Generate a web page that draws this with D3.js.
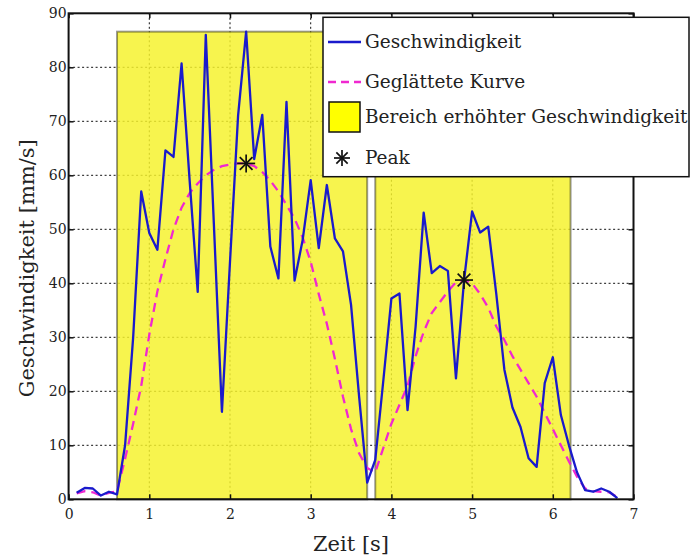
<!DOCTYPE html>
<html>
<head>
<meta charset="utf-8">
<script src="https://cdn.jsdelivr.net/npm/d3@7"></script>
<style>
  body { margin: 0; background: #fff; }
  svg text { font-family: "DejaVu Serif", "Liberation Serif", serif; fill: #222; }
</style>
</head>
<body>
<div id="chart"></div>
<script>
// measured data (Zeit in s, Geschwindigkeit in mm/s)
const zeit = [0.1, 0.2, 0.3, 0.4, 0.5, 0.6, 0.7, 0.8, 0.9, 1.0,
  1.1, 1.2, 1.3, 1.4, 1.5, 1.6, 1.7, 1.8, 1.9, 2.0,
  2.1, 2.2, 2.3, 2.4, 2.5, 2.6, 2.7, 2.8, 2.9, 3.0,
  3.1, 3.2, 3.3, 3.4, 3.5, 3.6, 3.7, 3.8, 3.9, 4.0,
  4.1, 4.2, 4.3, 4.4, 4.5, 4.6, 4.7, 4.8, 4.9, 5.0,
  5.1, 5.2, 5.3, 5.4, 5.5, 5.6, 5.7, 5.8, 5.9, 6.0,
  6.1, 6.2, 6.3, 6.4, 6.5, 6.6, 6.7, 6.8];
const geschwindigkeit = [1.2, 2.1, 2.0, 0.7, 1.4, 0.9, 10, 30, 57, 49.3,
  46.2, 64.6, 63.4, 80.7, 59, 38.4, 86, 51, 16.2, 44,
  71, 86.6, 63, 71.2, 46.8, 40.9, 73.6, 40.5, 48, 59.1,
  46.5, 58.2, 48.3, 45.9, 36, 19, 3.1, 7.3, 22, 37.2,
  38.1, 16.5, 32, 53.1, 41.9, 43.2, 42.3, 22.4, 40.5, 53.3,
  49.4, 50.5, 38, 24, 17, 13.4, 7.6, 6.0, 21.5, 26.3,
  15.6, 10, 5, 1.7, 1.4, 2.0, 1.4, 0.2];
const geglaettet = [1.1, 1.5, 1.3, 0.7, 1.2, 1.5, 7.5, 14, 21, 30.5,
  38.5, 44.5, 50, 54, 56.7, 58.5, 60, 61, 61.7, 62,
  62.2, 62.2, 61.7, 60.6, 59, 57, 54.5, 52, 48.5, 44,
  38, 32.5, 26, 19, 13, 8.5, 5.8, 5, 9.5, 14,
  17.5, 21, 26.5, 31, 34.5, 36.5, 38.5, 40.2, 40.6, 40,
  38, 35.5, 32, 29.5, 26.5, 24, 21.5, 19, 16, 13,
  10, 7, 4.2, 2, 1.5, 1.4, 1.3, 0.4];

// Bereiche erhoehter Geschwindigkeit
const bereichStart = [0.6, 3.8];
const bereichEnde = [3.7, 6.22];
const bereichHoehe = 86.6;

// Peaks
const peakZeit = [2.2, 4.9];
const peakWert = [62.2, 40.6];

const xTicks = [0, 1, 2, 3, 4, 5, 6, 7];
const yTicks = [0, 10, 20, 30, 40, 50, 60, 70, 80, 90];

const legendLabels = ['Geschwindigkeit', 'Geglättete Kurve', 'Bereich erhöhter Geschwindigkeit', 'Peak'];

const width = 691, height = 558;
const plot = { left: 68.6, right: 633.5, top: 13.3, bottom: 499.3 };
const serif = '"DejaVu Serif", "Liberation Serif", serif';
const blau = '#1a1acc', magenta = '#f028d0';

const svg = d3.select('#chart').append('svg')
  .attr('width', width)
  .attr('height', height);

const x = d3.scaleLinear().domain([0, 7]).range([plot.left, plot.right]);
const y = d3.scaleLinear().domain([0, 90]).range([plot.bottom, plot.top]);

// grid
const grid = svg.append('g').attr('class', 'grid')
  .attr('stroke', '#111')
  .attr('stroke-width', 1)
  .attr('stroke-dasharray', '2,2.5');
grid.selectAll('.gx')
  .data(xTicks.slice(1, -1))
  .enter().append('line')
    .attr('x1', d => x(d)).attr('x2', d => x(d))
    .attr('y1', plot.top).attr('y2', plot.bottom);
grid.selectAll('.gy')
  .data(yTicks.slice(1, -1))
  .enter().append('line')
    .attr('x1', plot.left).attr('x2', plot.right)
    .attr('y1', d => y(d)).attr('y2', d => y(d));

// yellow areas
svg.append('g').selectAll('rect')
  .data(bereichStart)
  .enter().append('rect')
    .attr('x', d => x(d))
    .attr('y', y(bereichHoehe))
    .attr('width', (d, i) => x(bereichEnde[i]) - x(d))
    .attr('height', y(0) - y(bereichHoehe))
    .attr('fill', '#f6f22c')
    .attr('fill-opacity', 0.84)
    .attr('stroke', '#000')
    .attr('stroke-opacity', 0.4)
    .attr('stroke-width', 2);

const points = zeit.map((t, i) => [t, geschwindigkeit[i]]);
const smoothPoints = zeit.map((t, i) => [t, geglaettet[i]]);
const line = d3.line().x(d => x(d[0])).y(d => y(d[1]));

svg.append('path')
  .datum(smoothPoints)
  .attr('d', line)
  .attr('fill', 'none')
  .attr('stroke', magenta)
  .attr('stroke-width', 2.3)
  .attr('stroke-dasharray', '9,6');

svg.append('path')
  .datum(points)
  .attr('d', line)
  .attr('fill', 'none')
  .attr('stroke', blau)
  .attr('stroke-width', 2.3)
  .attr('stroke-linejoin', 'round');

function drawStar(g, cx, cy, r) {
  [0, 45, 90, 135].forEach(function(a) {
    const rad = a * Math.PI / 180;
    g.append('line')
      .attr('x1', cx - r * Math.cos(rad)).attr('y1', cy - r * Math.sin(rad))
      .attr('x2', cx + r * Math.cos(rad)).attr('y2', cy + r * Math.sin(rad))
      .attr('stroke', '#111')
      .attr('stroke-width', 1.7);
  });
}

const stars = svg.append('g');
peakZeit.forEach(function(t, i) {
  drawStar(stars, x(t), y(peakWert[i]), 9);
});

// axes (ticks inward on all four sides)
const xAxis = d3.axisBottom(x).tickValues(xTicks).tickSize(-5).tickPadding(10).tickFormat(d3.format('d'));
const yAxis = d3.axisLeft(y).tickValues(yTicks).tickSize(-5).tickPadding(2).tickFormat(d3.format('d'));

const gx = svg.append('g')
  .attr('transform', 'translate(0,' + plot.bottom + ')')
  .call(xAxis);
const gy = svg.append('g')
  .attr('transform', 'translate(' + plot.left + ',0)')
  .call(yAxis);
svg.append('g')
  .attr('transform', 'translate(0,' + plot.top + ')')
  .call(d3.axisTop(x).tickValues(xTicks).tickSize(-5).tickFormat(''));
svg.append('g')
  .attr('transform', 'translate(' + plot.right + ',0)')
  .call(d3.axisRight(y).tickValues(yTicks).tickSize(-5).tickFormat(''));

svg.selectAll('.domain').remove();
svg.selectAll('.tick line').attr('stroke', '#111').attr('stroke-width', 1.5);
[gx, gy].forEach(function(g) {
  g.attr('font-family', null);
  g.selectAll('text')
    .style('font-family', serif)
    .style('font-size', '14px')
    .attr('fill', '#555');
});

svg.append('rect')
  .attr('x', plot.left).attr('y', plot.top)
  .attr('width', plot.right - plot.left)
  .attr('height', plot.bottom - plot.top)
  .attr('fill', 'none')
  .attr('stroke', '#111')
  .attr('stroke-width', 2);

// axis labels
svg.append('text')
  .attr('x', (plot.left + plot.right) / 2)
  .attr('y', 551)
  .attr('text-anchor', 'middle')
  .style('font-size', '21px')
  .text('Zeit [s]');

svg.append('text')
  .attr('transform', 'translate(34,' + ((plot.top + plot.bottom) / 2 + 12) + ') rotate(-90)')
  .attr('text-anchor', 'middle')
  .style('font-size', '21px')
  .text('Geschwindigkeit [mm/s]');

// legend
const legend = svg.append('g');
legend.append('rect')
  .attr('x', 323).attr('y', 17.3)
  .attr('width', 366).attr('height', 159.4)
  .attr('fill', '#fff')
  .attr('stroke', '#111')
  .attr('stroke-width', 1.5);

const rowY = [42, 82, 117, 158];
legend.append('line')
  .attr('x1', 328).attr('x2', 361)
  .attr('y1', rowY[0]).attr('y2', rowY[0])
  .attr('stroke', blau).attr('stroke-width', 2.3);
legend.append('line')
  .attr('x1', 328).attr('x2', 361)
  .attr('y1', rowY[1]).attr('y2', rowY[1])
  .attr('stroke', magenta).attr('stroke-width', 2.3)
  .attr('stroke-dasharray', '8,5');
legend.append('rect')
  .attr('x', 329).attr('y', 102)
  .attr('width', 31).attr('height', 30)
  .attr('fill', '#ffff00')
  .attr('stroke', '#111').attr('stroke-width', 1.5);
drawStar(legend, 342, rowY[3], 8);

legend.selectAll('.label')
  .data(legendLabels)
  .enter().append('text')
    .attr('x', 365)
    .attr('y', (d, i) => rowY[i])
    .attr('dy', '0.35em')
    .style('font-size', '18.5px')
    .text(d => d);
</script>
</body>
</html>
